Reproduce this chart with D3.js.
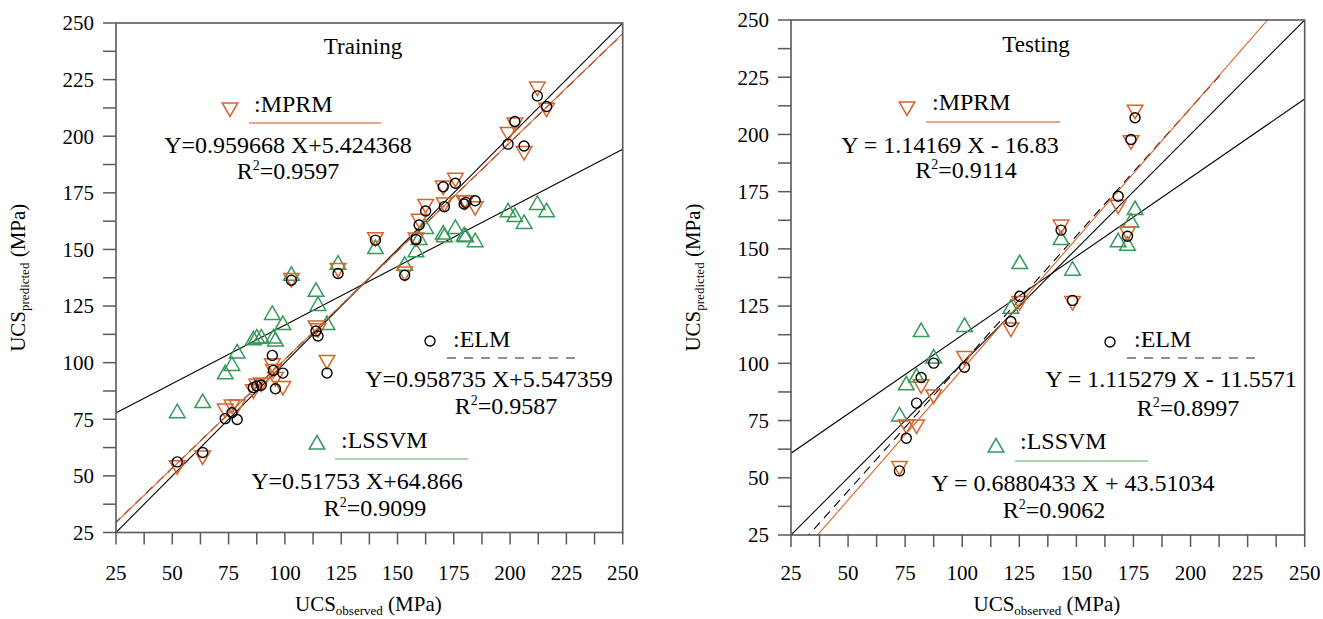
<!DOCTYPE html>
<html>
<head>
<meta charset="utf-8">
<script src="https://cdnjs.cloudflare.com/ajax/libs/d3/7.8.5/d3.min.js"></script>
<style>
    body { margin: 0; background: #fff; }
    text { font-family: "Liberation Serif", "Times New Roman", serif; fill: #000; }
</style>
</head>
<body>
<div id="chart"></div>
<script>

// axis ticks (majors labelled, minors every half step)
var tickValues = [25, 50, 75, 100, 125, 150, 175, 200, 225, 250];
var models = [":MPRM", ":ELM", ":LSSVM"];

// training set
var trainObserved = [52.2, 63.5, 73.5, 76.5, 78.8, 86.0, 87.5, 89.5, 94.4, 94.9, 95.8, 99.1,
    102.9, 113.8, 114.7, 118.7, 123.6, 140.2, 153.2, 158.2, 159.6, 162.5, 170.3, 170.8,
    175.7, 179.6, 180.3, 184.5, 199.1, 202.1, 206.2, 212.1, 216.2];
var trainMPRM = [54.5, 58.8, 79.5, 81.3, 81.3, 88.0, 90.5, 91.0, 99.5, 97.0, 93.5, 89.5,
    137.2, 116.2, 115.0, 101.0, 141.6, 155.2, 140.0, 155.0, 163.3, 169.9, 178.0, 170.5,
    181.4, 171.5, 171.5, 168.9, 201.6, 205.8, 193.2, 221.7, 212.4];
var trainELM = [56.2, 60.3, 75.3, 77.9, 74.9, 89.0, 89.7, 90.0, 103.2, 96.6, 88.5, 95.4,
    136.4, 114.0, 111.8, 95.4, 139.4, 154.1, 138.6, 154.4, 160.8, 167.0, 177.7, 168.9,
    179.2, 170.1, 170.8, 171.5, 196.5, 206.5, 195.7, 217.8, 213.1];
var trainLSSVM = [77.9, 82.4, 95.1, 98.8, 104.3, 110.1, 110.9, 110.9, 121.3, 110.9, 109.6, 116.8,
    138.6, 131.5, 125.3, 116.8, 143.5, 150.4, 143.0, 149.0, 154.4, 159.3, 156.8, 155.6,
    159.3, 155.9, 155.6, 153.4, 166.7, 164.5, 161.5, 169.9, 166.7];
var trainSlopes = [0.959668, 0.958735, 0.51753];
var trainIntercepts = [5.424368, 5.547359, 64.866];
var trainFitMax = [300, 300, 300];
var trainEquations = ["Y=0.959668 X+5.424368", "Y=0.958735 X+5.547359", "Y=0.51753 X+64.866"];
var trainR2 = ["0.9597", "0.9587", "0.9099"];

// testing set
var testObserved = [72.5, 75.5, 80.0, 82.0, 87.5, 101.0, 121.3, 125.2, 143.3, 148.3, 168.3, 172.4, 173.9, 175.7];
var testMPRM = [54.9, 73.1, 73.1, 90.6, 86.2, 103.0, 115.4, 127.0, 160.4, 127.0, 169.1, 157.4, 197.2, 210.6];
var testELM = [53.0, 67.3, 82.6, 93.8, 100.1, 98.3, 118.3, 129.3, 158.2, 127.5, 173.0, 155.5, 197.8, 207.3];
var testLSSVM = [77.0, 90.6, 94.0, 113.9, 102.3, 116.1, 124.1, 143.6, 154.1, 140.7, 153.1, 151.6, 161.8, 167.2];
var testSlopes = [1.14169, 1.115279, 0.6880433];
var testIntercepts = [-16.83, -11.5571, 43.51034];
var testFitMax = [300, 214, 300];
var testEquations = ["Y = 1.14169 X - 16.83", "Y = 1.115279 X - 11.5571", "Y = 0.6880433 X + 43.51034"];
var testR2 = ["0.9114", "0.8997", "0.9062"];

var orange = "#d9642b",
    green = "#35995a";

var Panel = function() {

    var box = {left: 116, top: 23, right: 622.7, bottom: 532.5},
        title = "Training",
        titlePos = [363, 54],
        legend = [],
        id = "p0";

    var chart = function(selection) {
        selection.each(function(d) {
            var g = d3.select(this);
            var x = d3.scaleLinear().domain([25, 250]).range([box.left, box.right]);
            var y = d3.scaleLinear().domain([25, 250]).range([box.bottom, box.top]);

            var minor = [];
            tickValues.forEach(function(v, i) {
                minor.push(v);
                if (i < tickValues.length - 1) minor.push((v + tickValues[i + 1]) / 2);
            });

            g.append("clipPath").attr("id", id)
                .append("rect")
                .attr("x", box.left).attr("y", box.top)
                .attr("width", box.right - box.left).attr("height", box.bottom - box.top);

            // fitted lines + 1:1 line
            var fits = [{m: 1, b: 0, end: 300, color: "#000", dash: null}];
            d.slopes.forEach(function(m, i) {
                fits.push({m: m, b: d.intercepts[i], end: d.fitMax[i],
                    color: i == 0 ? orange : "#000",
                    dash: i == 1 ? "9,6" : null});
            });
            fits = [fits[0], fits[3], fits[2], fits[1]];

            g.append("g").attr("clip-path", "url(#" + id + ")")
                .selectAll("line").data(fits).enter().append("line")
                .attr("x1", x(0))
                .attr("x2", function(f) { return x(f.end); })
                .attr("y1", function(f) { return y(f.b); })
                .attr("y2", function(f) { return y(f.m * f.end + f.b); })
                .attr("stroke", function(f) { return f.color; })
                .attr("stroke-width", 1.1)
                .attr("stroke-dasharray", function(f) { return f.dash; });

            // markers
            var pts = g.append("g");
            pts.selectAll(".ls").data(d.observed).enter().append("path")
                .attr("d", triUp)
                .attr("transform", function(v, i) { return "translate(" + x(v) + "," + y(d.lssvm[i]) + ")"; })
                .attr("fill", "none").attr("stroke", green).attr("stroke-width", 1.5);
            pts.selectAll(".mp").data(d.observed).enter().append("path")
                .attr("d", triDown)
                .attr("transform", function(v, i) { return "translate(" + x(v) + "," + y(d.mprm[i]) + ")"; })
                .attr("fill", "none").attr("stroke", orange).attr("stroke-width", 1.5);
            pts.selectAll("circle").data(d.observed).enter().append("circle")
                .attr("cx", function(v) { return x(v); })
                .attr("cy", function(v, i) { return y(d.elm[i]); })
                .attr("r", 5)
                .attr("fill", "none").attr("stroke", "#000").attr("stroke-width", 1.4);

            // frame and ticks
            g.append("rect")
                .attr("x", box.left).attr("y", box.top)
                .attr("width", box.right - box.left).attr("height", box.bottom - box.top)
                .attr("fill", "none").attr("stroke", "#595959").attr("stroke-width", 1.6);

            g.selectAll(".ytick").data(minor).enter().append("line")
                .attr("x1", box.left - 13).attr("x2", box.left)
                .attr("y1", function(v) { return y(v); }).attr("y2", function(v) { return y(v); })
                .attr("stroke", "#595959").attr("stroke-width", 1.5);
            g.selectAll(".xtick").data(minor).enter().append("line")
                .attr("y1", box.bottom).attr("y2", box.bottom + 12)
                .attr("x1", function(v) { return x(v); }).attr("x2", function(v) { return x(v); })
                .attr("stroke", "#595959").attr("stroke-width", 1.5);

            g.selectAll(".ylab").data(tickValues).enter().append("text")
                .attr("x", box.left - 22)
                .attr("y", function(v) { return y(v); })
                .attr("dy", "0.35em")
                .attr("text-anchor", "end")
                .style("font-size", "21px")
                .text(function(v) { return v; });
            g.selectAll(".xlab").data(tickValues).enter().append("text")
                .attr("x", function(v) { return x(v); })
                .attr("y", 580)
                .attr("text-anchor", "middle")
                .style("font-size", "21px")
                .text(function(v) { return v; });

            // axis titles
            var xt = g.append("text")
                .attr("x", (box.left + box.right) / 2 - 1).attr("y", 611)
                .attr("text-anchor", "middle").style("font-size", "21px");
            xt.append("tspan").text("UCS");
            xt.append("tspan").attr("dy", 4).style("font-size", "13px").text("observed");
            xt.append("tspan").attr("dy", -4).text(" (MPa)");

            var yt = g.append("text")
                .attr("transform", "translate(" + (box.left - 91) + "," + ((box.top + box.bottom) / 2) + ") rotate(-90)")
                .attr("text-anchor", "middle").style("font-size", "21px");
            yt.append("tspan").text("UCS");
            yt.append("tspan").attr("dy", 4).style("font-size", "13px").text("predicted");
            yt.append("tspan").attr("dy", -4).text(" (MPa)");

            g.append("text")
                .attr("x", titlePos[0]).attr("y", titlePos[1])
                .attr("text-anchor", "middle")
                .style("font-size", "23px")
                .text(title);

            // legend blocks
            legend.forEach(function(l, i) {
                var mk = l.marker;
                if (i == 1) {
                    g.append("circle").attr("cx", mk[0]).attr("cy", mk[1]).attr("r", 5)
                        .attr("fill", "none").attr("stroke", "#000").attr("stroke-width", 1.4);
                } else {
                    g.append("path").attr("d", i == 0 ? triDown : triUp)
                        .attr("transform", "translate(" + mk[0] + "," + mk[1] + ")")
                        .attr("fill", "none").attr("stroke", i == 0 ? orange : green).attr("stroke-width", 1.5);
                }
                g.append("text").attr("x", l.label[0]).attr("y", l.label[1])
                    .style("font-size", "24px").text(models[i]);
                g.append("line")
                    .attr("x1", l.line[0]).attr("x2", l.line[1])
                    .attr("y1", l.line[2]).attr("y2", l.line[2])
                    .attr("stroke", i == 0 ? "#e48a5c" : (i == 1 ? "#222" : "#8fc79c"))
                    .attr("stroke-width", i == 1 ? 1.1 : 1.6)
                    .attr("stroke-dasharray", i == 1 ? "9,8" : null);
                g.append("text").attr("x", l.eq[0]).attr("y", l.eq[1])
                    .attr("text-anchor", "middle").style("font-size", "24px")
                    .text(d.equations[i]);
                var r = g.append("text").attr("x", l.r2[0]).attr("y", l.r2[1])
                    .attr("text-anchor", "middle").style("font-size", "24px");
                r.append("tspan").text("R");
                r.append("tspan").attr("dy", -9).style("font-size", "14px").text("2");
                r.append("tspan").attr("dy", 9).text("=" + d.r2[i]);
            });
        });
    };

    function triUp() { return "M0,-8.5L7.8,5L-7.8,5Z"; }
    function triDown() { return "M0,8.5L7.8,-5L-7.8,-5Z"; }

    chart.box = function(value) {
        if (!arguments.length) return box;
        box = value;
        return chart;
    };
    chart.title = function(value, pos) {
        if (!arguments.length) return title;
        title = value;
        titlePos = pos;
        return chart;
    };
    chart.legend = function(value) {
        if (!arguments.length) return legend;
        legend = value;
        return chart;
    };
    chart.id = function(value) {
        if (!arguments.length) return id;
        id = value;
        return chart;
    };

    return chart;
};

var svg = d3.select("#chart").append("svg")
    .attr("width", 1323)
    .attr("height", 619);

var training = Panel()
    .id("clipTrain")
    .box({left: 116, top: 23, right: 622.7, bottom: 532.5})
    .title("Training", [363, 54])
    .legend([
        {marker: [230, 108], label: [254, 112], line: [249, 381, 123], eq: [288, 153], r2: [288, 179]},
        {marker: [430, 341], label: [453, 347], line: [447, 579, 358], eq: [489, 387], r2: [506, 414]},
        {marker: [317, 444], label: [341, 448], line: [335, 468, 459], eq: [357, 489], r2: [375, 516]}
    ]);

var testing = Panel()
    .id("clipTest")
    .box({left: 791, top: 20, right: 1304.7, bottom: 535})
    .title("Testing", [1036, 52])
    .legend([
        {marker: [907, 107], label: [932, 110], line: [926, 1060, 122], eq: [950, 153], r2: [966, 178]},
        {marker: [1110, 342], label: [1134, 347], line: [1127, 1261, 358], eq: [1171, 387], r2: [1188, 416]},
        {marker: [996, 447], label: [1020, 449], line: [1015, 1148, 461], eq: [1073, 491], r2: [1054, 518]}
    ]);

svg.append("g").datum({
    observed: trainObserved, mprm: trainMPRM, elm: trainELM, lssvm: trainLSSVM,
    slopes: trainSlopes, intercepts: trainIntercepts, fitMax: trainFitMax,
    equations: trainEquations, r2: trainR2
}).call(training);

svg.append("g").datum({
    observed: testObserved, mprm: testMPRM, elm: testELM, lssvm: testLSSVM,
    slopes: testSlopes, intercepts: testIntercepts, fitMax: testFitMax,
    equations: testEquations, r2: testR2
}).call(testing);

</script>
</body>
</html>
